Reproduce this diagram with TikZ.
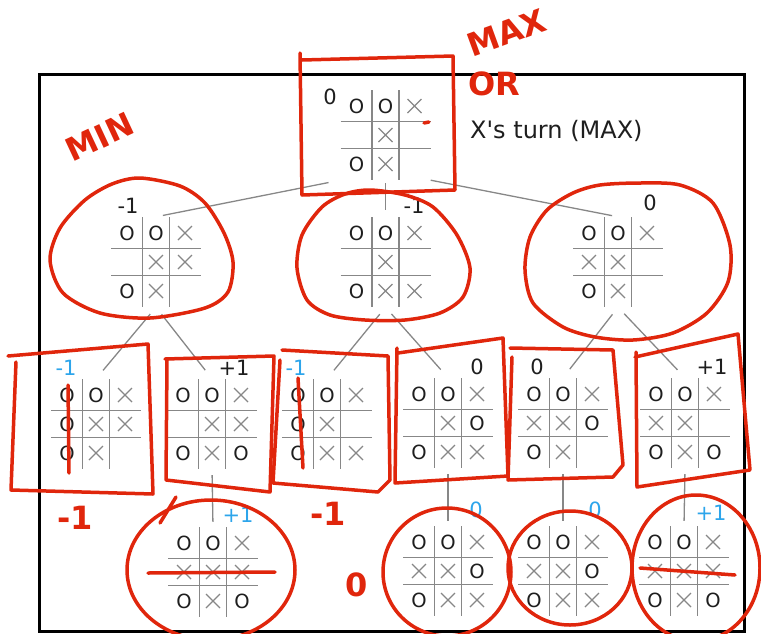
\documentclass[tikz,border=0pt]{standalone}
\usepackage{fontspec}
\setmainfont{DejaVu Sans}[Ligatures=TeXOff]
\usepackage{tikz}
\usetikzlibrary{arrows,positioning,calc}

\definecolor{redink}{RGB}{224,38,12}
\definecolor{valblue}{RGB}{45,165,235}
\definecolor{gridgray}{RGB}{135,135,135}
\definecolor{ink}{RGB}{30,30,30}

% one tic-tac-toe board: name, centre, nine cells (O, X or -)
\newcommand{\Board}[3]{%
  \node[board] (#1) at (#2) {};
  \begin{scope}[shift={(#1)}]
    \draw[gridline] (-13.5,-45) -- (-13.5,45) (13.5,-45) -- (13.5,45)
                    (-45,-13.5) -- (45,-13.5) (-45,13.5) -- (45,13.5);
    \foreach \m [count=\k from 0] in {#3} {
      \pgfmathtruncatemacro{\bcol}{mod(\k,3)}
      \pgfmathtruncatemacro{\brow}{div(\k,3)}
      \if O\m \node[markO] (#1-\k) at (\bcol*29-29,\brow*29-29) {O};\fi
      \if X\m \draw[markX] (\bcol*29-29,\brow*29-29) +(-7,-7) -- +(7,7) +(-7,7) -- +(7,-7);\fi
    }
  \end{scope}
}

\begin{document}
\begin{tikzpicture}[x=1pt,y=-1pt]
  \tikzstyle{board}=[rectangle,minimum width=90pt,minimum height=90pt,inner sep=0pt]
  \tikzstyle{gridline}=[draw=gridgray,line width=1.7pt]
  \tikzstyle{markO}=[inner sep=0pt,text=ink,font=\fontsize{19.5}{19.5}\selectfont]
  \tikzstyle{markX}=[draw=gridgray,line width=1.2pt]
  \tikzstyle{val}=[inner sep=0pt,text=ink,font=\fontsize{21}{21}\selectfont]
  \tikzstyle{leaf}=[val,text=valblue]
  \tikzstyle{branch}=[draw=gridgray,line width=1.3pt]
  \tikzstyle{pen}=[draw=redink,line width=3.5pt,line cap=round,line join=round]
  \tikzstyle{hand}=[inner sep=0pt,text=redink,font=\fontsize{32}{32}\selectfont\bfseries]
  \useasboundingbox (0,0) rectangle (761,633);
  \clip (0,0) rectangle (761,633);
  \draw[line width=3pt] (39,74) rectangle (744,631);
  % the tree
  \Board{root}{385.5,135}{O,O,X,-,X,-,O,X,-}
  \Board{A}{156,262}{O,O,X,-,X,X,O,X,-}
  \Board{B}{385.5,262}{O,O,X,-,X,-,O,X,X}
  \Board{C}{618,262}{O,O,X,X,X,-,O,X,-}
  \Board{A1}{96,424}{O,O,X,O,X,X,O,X,-}
  \Board{A2}{212,424}{O,O,X,-,X,X,O,X,O}
  \Board{B1}{327,424}{O,O,X,O,X,-,O,X,X}
  \Board{B2}{448,423}{O,O,X,-,X,O,O,X,X}
  \Board{C1}{563,423}{O,O,X,X,X,O,O,X,-}
  \Board{C2}{685,423}{O,O,X,X,X,-,O,X,O}
  \Board{A2a}{213,572}{O,O,X,X,X,X,O,X,O}
  \Board{B2a}{448,571}{O,O,X,X,X,O,O,X,X}
  \Board{C1a}{563,571}{O,O,X,X,X,O,O,X,X}
  \Board{C2a}{684,571}{O,O,X,X,X,X,O,X,O}
  % values
  \node[val] (root-v) at (330,97) {0};
  \node[anchor=base west,inner sep=0pt,text=ink,font=\fontsize{24}{24}\selectfont] (turn) at (470,138) {X's turn (MAX)};
  \node[val] (A-v) at (128,206) {-1};
  \node[val] (B-v) at (414,206) {-1};
  \node[val] (C-v) at (650,203) {0};
  \node[leaf] (A1-v) at (66,368) {-1};
  \node[val] (A2-v) at (234,368) {+1};
  \node[leaf] (B1-v) at (296,368) {-1};
  \node[val] (B2-v) at (477,367) {0};
  \node[val] (C1-v) at (537,367) {0};
  \node[val] (C2-v) at (712,367) {+1};
  \node[leaf] (A2a-v) at (238,515) {+1};
  \node[leaf] (B2a-v) at (476,510) {0};
  \node[leaf] (C1a-v) at (595,510) {0};
  \node[leaf] (C2a-v) at (711,513) {+1};
  % branches
  \draw[branch,shorten <=12pt,shorten >=7pt] (root.south west) -- (A.north);
  \draw[branch,shorten <=3pt,shorten >=7pt] (root.south) -- (B.north);
  \draw[branch,shorten >=6pt] (root.south east) -- (C.north);
  \draw[branch,shorten <=9pt,shorten >=11pt] (A.south) -- (A1.north);
  \draw[branch,shorten <=9pt,shorten >=11pt] (A.south) -- (A2.north);
  \draw[branch,shorten <=9pt,shorten >=11pt] (B.south) -- (B1.north);
  \draw[branch,shorten <=9pt,shorten >=11pt] (B.south) -- (B2.north);
  \draw[branch,shorten <=9pt,shorten >=11pt] (C.south) -- (C1.north);
  \draw[branch,shorten <=9pt,shorten >=11pt] (C.south) -- (C2.north);
  \draw[branch,shorten <=6pt,shorten >=5pt] (A2.south) -- (A2a.north);
  \draw[branch,shorten <=6pt,shorten >=5pt] (B2.south) -- (B2a.north);
  \draw[branch,shorten <=6pt,shorten >=5pt] (C1.south) -- (C1a.north);
  \draw[branch,shorten <=6pt,shorten >=5pt] (C2.south) -- (C2a.north);
  % red pen notes
  \node[hand,rotate=20] (hw-max) at (507,33) {MAX};
  \node[hand] (hw-or) at (494,84) {OR};
  \node[hand,rotate=25] (hw-min) at (100,137) {MIN};
  \node[hand] (hw-a1) at (75,518) {-1};
  \node[hand] (hw-b1) at (328,514) {-1};
  \node[hand] (hw-b2) at (357,585) {0};
  \draw[pen] (424,123) -- (429,122);
  \draw[pen] (300,53) -- (302,195) -- (455,190) -- (453,56) -- (302,60);
  \draw[pen] plot[smooth cycle] coordinates {(140,178) (180,186) (205,203) (224,233) (233,262) (228,292) (205,308) (150,318) (100,313) (63,293) (50,260) (60,228) (85,200) (112,184)};
  \draw[pen] plot[smooth cycle] coordinates {(370,190) (405,195) (433,207) (457,235) (470,268) (463,297) (440,313) (405,320) (365,320) (330,315) (307,300) (297,268) (302,235) (322,207) (345,194)};
  \draw[pen] plot[smooth cycle] coordinates {(600,185) (640,183) (680,185) (713,203) (730,245) (728,282) (707,313) (673,333) (633,340) (595,337) (563,327) (533,303) (525,270) (530,237) (547,210) (573,193)};
  \draw[pen] (16,362) -- (11,490) -- (153,494) -- (148,344) -- (8,356);
  \draw[pen] (167,360) -- (166,480) -- (270,492) -- (274,356) -- (165,359);
  \draw[pen] (280,360) -- (273,483) -- (378,492) -- (390,480) -- (388,356) -- (282,350);
  \draw[pen] (398,353) -- (503,338) -- (508,476) -- (395,483) -- (397,348);
  \draw[pen] (512,357) -- (508,480) -- (613,477) -- (623,465) -- (613,350) -- (510,348);
  \draw[pen] (635,357) -- (738,334) -- (750,470) -- (637,487) -- (636,352);
  \draw[pen] (68,385) -- (69,473);
  \draw[pen] (298,378) -- (303,468);
  \draw[pen] (211,570) ellipse [x radius=84pt,y radius=70pt];
  \draw[pen] (160,523) -- (176,497);
  \draw[pen] (148,573) -- (275,572);
  \draw[pen] (447,572) ellipse [x radius=64pt,y radius=64pt];
  \draw[pen] (570,568) ellipse [x radius=62pt,y radius=57pt];
  \draw[pen] (696,568) ellipse [x radius=64pt,y radius=73pt];
  \draw[pen] (640,568) -- (735,575);
\end{tikzpicture}
\end{document}
